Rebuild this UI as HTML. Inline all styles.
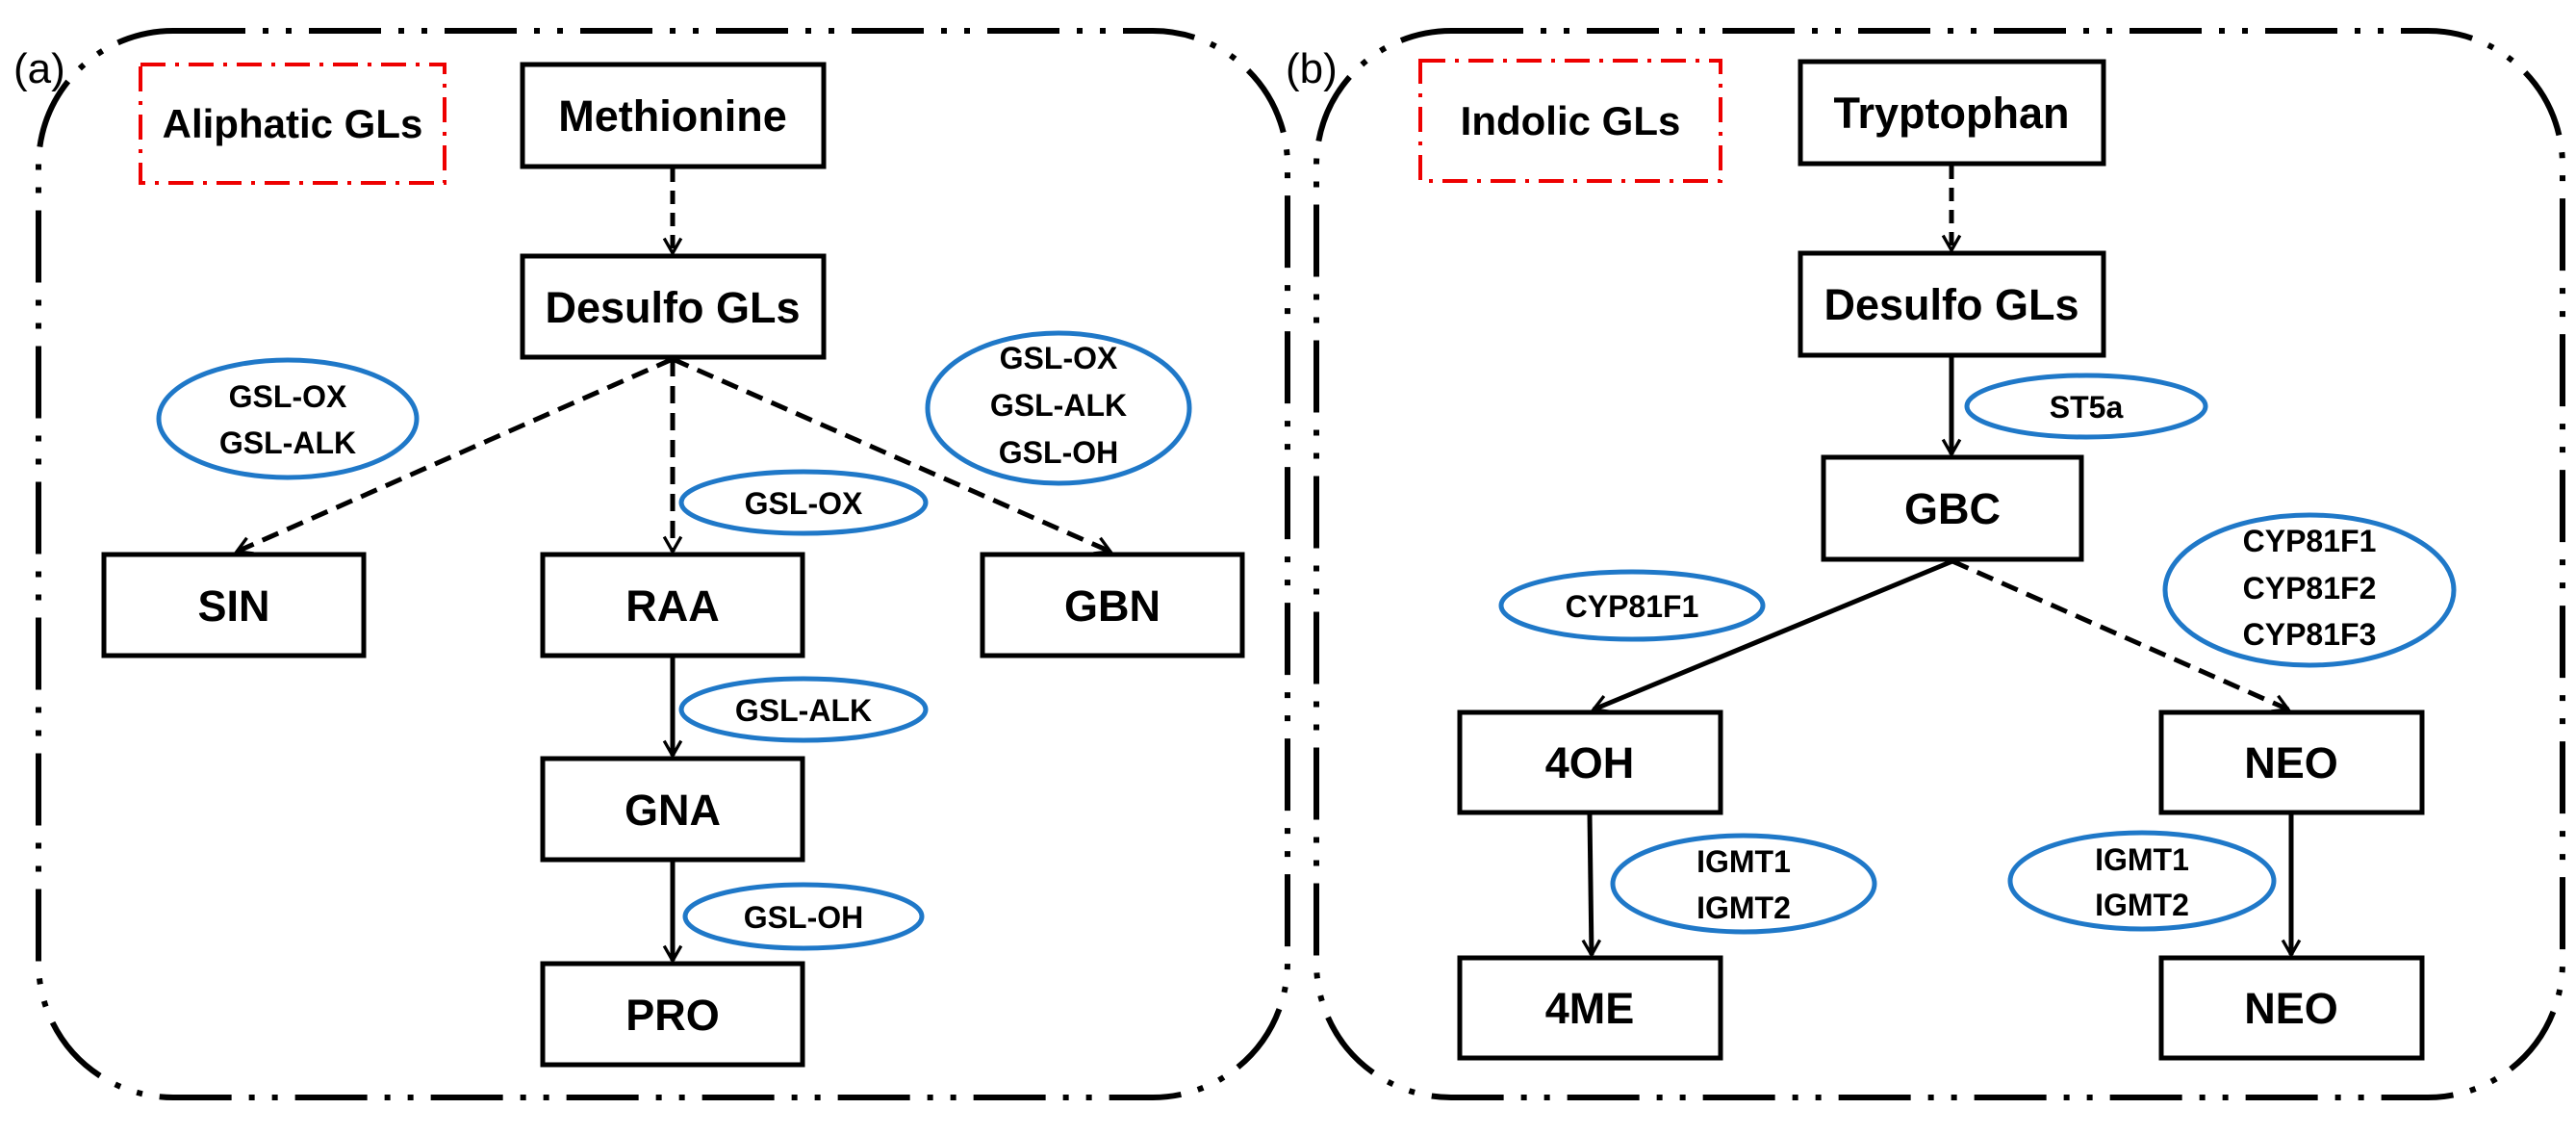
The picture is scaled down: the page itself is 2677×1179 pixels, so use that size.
<!DOCTYPE html>
<html><head><meta charset="utf-8"><style>
html,body{margin:0;padding:0;background:#fff;}
svg{display:block;}
text{font-family:"Liberation Sans",sans-serif;font-weight:bold;fill:#000;}
</style></head><body>
<svg width="2677" height="1179" viewBox="0 0 2677 1179" xmlns="http://www.w3.org/2000/svg">
<defs>
<marker id="ar" viewBox="0 0 20 20" refX="18" refY="10" markerWidth="22" markerHeight="22" markerUnits="userSpaceOnUse" orient="auto">
<polyline points="4,2 18,10 4,18" fill="none" stroke="#000" stroke-width="3"/>
</marker>
</defs>
<rect x="40" y="32" width="1298" height="1108" rx="140" ry="140" fill="none" stroke="#000" stroke-width="6" stroke-dasharray="75,18,6,18,6,18"/>
<rect x="1368" y="32" width="1295" height="1108" rx="140" ry="140" fill="none" stroke="#000" stroke-width="6" stroke-dasharray="75,18,6,18,6,18"/>
<text x="14" y="86" font-size="44" style="font-weight:normal">(a)</text>
<text x="1336" y="86" font-size="44" style="font-weight:normal">(b)</text>

<rect x="146" y="67" width="316" height="123" fill="none" stroke="#e00" stroke-width="4" stroke-dasharray="26,10,4,10"/>
<text x="304" y="143" font-size="42" text-anchor="middle">Aliphatic GLs</text>
<rect x="1476" y="63" width="312" height="125" fill="none" stroke="#e00" stroke-width="4" stroke-dasharray="26,10,4,10"/>
<text x="1632" y="140" font-size="42" text-anchor="middle">Indolic GLs</text>

<g fill="#fff" stroke="#000" stroke-width="5">
<rect x="543" y="67" width="313" height="106"/>
<rect x="543" y="266" width="313" height="105"/>
<rect x="108" y="576" width="270" height="105"/>
<rect x="564" y="576" width="270" height="105"/>
<rect x="1021" y="576" width="270" height="105"/>
<rect x="564" y="788" width="270" height="105"/>
<rect x="564" y="1001" width="270" height="105"/>

<rect x="1871" y="64" width="315" height="106"/>
<rect x="1871" y="263" width="315" height="106"/>
<rect x="1895" y="475" width="268" height="106"/>
<rect x="1517" y="740" width="271" height="104"/>
<rect x="2246" y="740" width="271" height="104"/>
<rect x="1517" y="995" width="271" height="104"/>
<rect x="2246" y="995" width="271" height="104"/>
</g>
<g font-size="45" text-anchor="middle">
<text x="699" y="136">Methionine</text>
<text x="699" y="335">Desulfo GLs</text>
<text x="243" y="645">SIN</text>
<text x="699" y="645">RAA</text>
<text x="1156" y="645">GBN</text>
<text x="699" y="857">GNA</text>
<text x="699" y="1070">PRO</text>
<text x="2028" y="133">Tryptophan</text>
<text x="2028" y="332">Desulfo GLs</text>
<text x="2029" y="544">GBC</text>
<text x="1652" y="808">4OH</text>
<text x="2381" y="808">NEO</text>
<text x="1652" y="1063">4ME</text>
<text x="2381" y="1063">NEO</text>
</g>

<g stroke="#000" stroke-width="5" fill="none">
<line x1="699" y1="175" x2="699" y2="263" stroke-dasharray="14,9" marker-end="url(#ar)"/>
<line x1="699" y1="373" x2="246" y2="573" stroke-dasharray="18,10" marker-end="url(#ar)"/>
<line x1="699" y1="373" x2="699" y2="573" stroke-dasharray="18,10" marker-end="url(#ar)"/>
<line x1="699" y1="373" x2="1154" y2="573" stroke-dasharray="18,10" marker-end="url(#ar)"/>
<line x1="699" y1="683" x2="699" y2="785" marker-end="url(#ar)"/>
<line x1="699" y1="895" x2="699" y2="998" marker-end="url(#ar)"/>

<line x1="2028" y1="172" x2="2028" y2="260" stroke-dasharray="14,9" marker-end="url(#ar)"/>
<line x1="2028" y1="371" x2="2028" y2="472" marker-end="url(#ar)"/>
<line x1="2029" y1="583" x2="1656" y2="737" marker-end="url(#ar)"/>
<line x1="2029" y1="583" x2="2378" y2="737" stroke-dasharray="18,10" marker-end="url(#ar)"/>
<line x1="1652" y1="846" x2="1654" y2="992" marker-end="url(#ar)"/>
<line x1="2381" y1="846" x2="2381" y2="992" marker-end="url(#ar)"/>
</g>

<g fill="#fff" stroke="#1f78c8" stroke-width="5">
<ellipse cx="299" cy="435" rx="134" ry="61"/>
<ellipse cx="1100" cy="424" rx="136" ry="78"/>
<ellipse cx="835" cy="522" rx="127" ry="32"/>
<ellipse cx="835" cy="737" rx="127" ry="32"/>
<ellipse cx="835" cy="952" rx="123" ry="33"/>

<ellipse cx="2168" cy="422" rx="124" ry="32"/>
<ellipse cx="1696" cy="629" rx="136" ry="35"/>
<ellipse cx="2400" cy="613" rx="150" ry="78"/>
<ellipse cx="1812" cy="918" rx="136" ry="50"/>
<ellipse cx="2226" cy="915" rx="137" ry="50"/>
</g>
<g font-size="32" text-anchor="middle">
<text x="299" y="423">GSL-OX</text>
<text x="299" y="471">GSL-ALK</text>
<text x="1100" y="383">GSL-OX</text>
<text x="1100" y="432">GSL-ALK</text>
<text x="1100" y="481">GSL-OH</text>
<text x="835" y="534">GSL-OX</text>
<text x="835" y="749">GSL-ALK</text>
<text x="835" y="964">GSL-OH</text>

<text x="2168" y="434">ST5a</text>
<text x="1696" y="641">CYP81F1</text>
<text x="2400" y="573">CYP81F1</text>
<text x="2400" y="622">CYP81F2</text>
<text x="2400" y="670">CYP81F3</text>
<text x="1812" y="906">IGMT1</text>
<text x="1812" y="954">IGMT2</text>
<text x="2226" y="904">IGMT1</text>
<text x="2226" y="951">IGMT2</text>
</g>
</svg>
</body></html>
